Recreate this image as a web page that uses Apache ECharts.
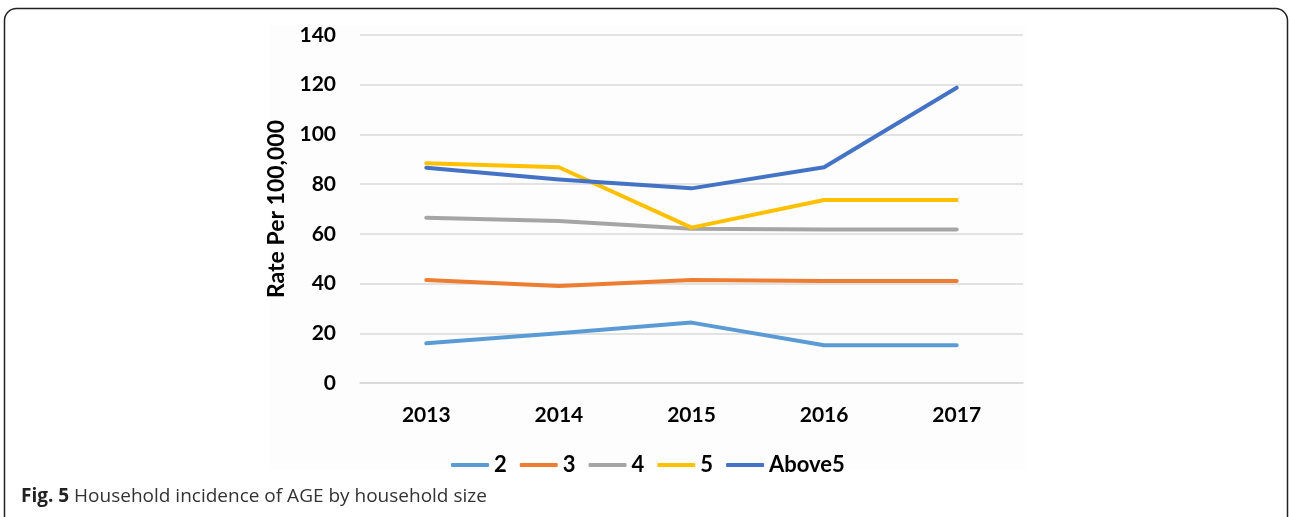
<!DOCTYPE html>
<html>
<head>
<meta charset="utf-8">
<script src="https://cdn.jsdelivr.net/npm/echarts@6/dist/echarts.min.js"></script>
<style>
  html, body { margin: 0; padding: 0; background: #fff; }
  #chart { width: 1290px; height: 517px; }
</style>
</head>
<body>
<div id="chart"></div>
<script>
// years on the x axis
const years = ["2013", "2014", "2015", "2016", "2017"];

// rate per 100,000, by household size
const size2 = [16.0, 20.0, 24.3, 15.2, 15.2];
const size3 = [41.4, 39.0, 41.4, 41.0, 41.0];
const size4 = [66.5, 65.2, 62.1, 61.8, 61.8];
const size5 = [88.4, 86.8, 62.5, 73.6, 73.6];
const above5 = [86.6, 81.9, 78.3, 86.8, 118.8];

const seriesNames = ["2", "3", "4", "5", "Above5"];
const seriesColors = ["#5B9BD5", "#ED7D31", "#A5A5A5", "#FFC000", "#4472C4"];
const seriesData = [size2, size3, size4, size5, above5];

const boldFont = "Lato";

var chart = echarts.init(document.getElementById("chart"));

var option = {
  animation: false,
  backgroundColor: "#ffffff",
  graphic: [
    {
      // faint plot-area backdrop
      type: "rect",
      z: -10,
      shape: { x: 270, y: 25, width: 755, height: 445 },
      style: { fill: "#fdfdfd" },
    },
    {
      // rounded frame around the figure
      type: "rect",
      z: 100,
      shape: { x: 4.5, y: 8.5, width: 1283, height: 540, r: 12 },
      style: { fill: "none", stroke: "#222", lineWidth: 1.5 },
    },
    {
      type: "text",
      left: 21,
      top: 487,
      style: {
        text: "{b|Fig. 5} Household incidence of AGE by household size",
        rich: {
          b: { fontFamily: "Open Sans", fontWeight: "bold", fontSize: 19, fill: "#222" },
        },
        fontFamily: "Open Sans",
        fontSize: 19,
        fill: "#333",
      },
    },
  ],
  legend: {
    data: seriesNames,
    left: 446,
    top: 449,
    icon: "roundRect",
    itemWidth: 38,
    itemHeight: 4,
    itemGap: 13,
    textStyle: {
      fontFamily: boldFont,
      fontWeight: "bold",
      fontSize: 22,
      color: "#000",
    },
  },
  grid: {
    left: 360,
    right: 267,
    top: 35,
    bottom: 134,
  },
  xAxis: {
    type: "category",
    data: years,
    boundaryGap: true,
    axisLine: { show: true, lineStyle: { color: "#d9d9d9", width: 1.5 } },
    axisTick: { show: false },
    axisLabel: {
      margin: 22,
      fontFamily: boldFont,
      fontWeight: "bold",
      fontSize: 21,
      color: "#000",
    },
  },
  yAxis: {
    type: "value",
    min: 0,
    max: 140,
    interval: 20,
    name: "Rate Per 100,000",
    nameLocation: "middle",
    nameGap: 70,
    nameTextStyle: {
      fontFamily: boldFont,
      fontWeight: "bold",
      fontSize: 23,
      color: "#000",
    },
    axisLine: { show: false },
    axisTick: { show: false },
    axisLabel: {
      margin: 24,
      fontFamily: boldFont,
      fontWeight: "bold",
      fontSize: 21,
      color: "#000",
    },
    splitLine: { lineStyle: { color: "#d9d9d9", width: 1.5 } },
  },
  series: seriesNames.map(function (name, i) {
    return {
      name: name,
      type: "line",
      data: seriesData[i],
      showSymbol: false,
      symbol: "none",
      color: seriesColors[i],
      lineStyle: { width: 4, cap: "round", join: "round" },
    };
  }),
};

chart.setOption(option);
</script>
</body>
</html>
